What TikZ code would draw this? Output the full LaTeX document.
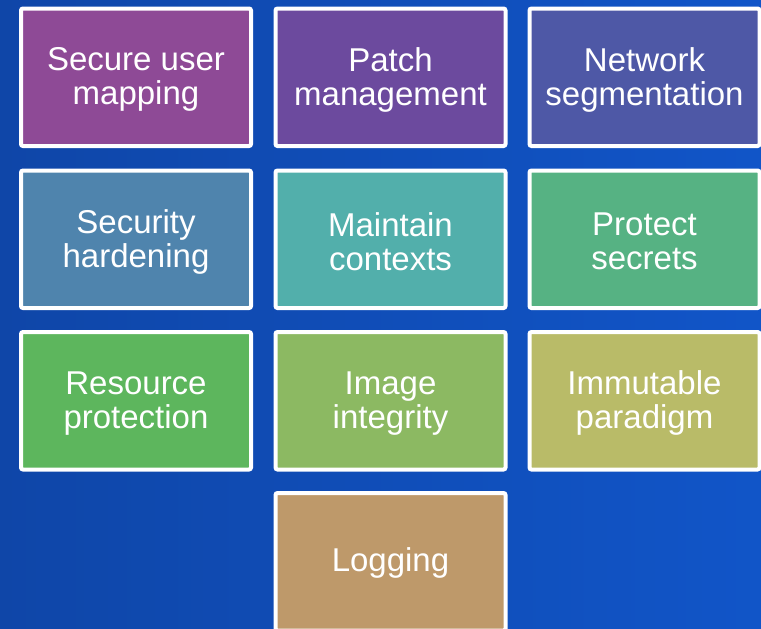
\documentclass[tikz,border=0pt]{standalone}
\usepackage{fontspec}
\setmainfont{Liberation Sans}
\begin{document}
\begin{tikzpicture}[x=1pt,y=-1pt,
  tile/.style={draw=white, line width=4pt, rounded corners=2pt, anchor=north west,
    minimum width=230pt, minimum height=137.5pt, inner sep=0pt},
  lbl/.style={align=center, inner sep=0pt, text=white, font=\fontsize{33}{34}\selectfont}]
\definecolor{bgL}{RGB}{15,70,168}
\definecolor{bgR}{RGB}{17,85,200}
\definecolor{cA}{RGB}{142,74,150}
\definecolor{cB}{RGB}{108,74,158}
\definecolor{cC}{RGB}{78,88,166}
\definecolor{cD}{RGB}{79,132,173}
\definecolor{cE}{RGB}{82,175,171}
\definecolor{cF}{RGB}{86,178,131}
\definecolor{cG}{RGB}{93,182,93}
\definecolor{cH}{RGB}{140,185,98}
\definecolor{cI}{RGB}{185,187,104}
\definecolor{cJ}{RGB}{190,153,106}
\useasboundingbox (0,0) rectangle (761,629);
\clip (0,0) rectangle (761,629);
\shade[left color=bgL, right color=bgR] (0,0) rectangle (761,629);
\node[tile, fill=cA] (n1) at (19,6.5) {};
\node[tile, fill=cB] (n2) at (273.5,6.5) {};
\node[tile, fill=cC] (n3) at (527.5,6.5) {};
\node[tile, fill=cD] (n4) at (19,168.5) {};
\node[tile, fill=cE] (n5) at (273.5,168.5) {};
\node[tile, fill=cF] (n6) at (527.5,168.5) {};
\node[tile, fill=cG] (n7) at (19,330) {};
\node[tile, fill=cH] (n8) at (273.5,330) {};
\node[tile, fill=cI] (n9) at (527.5,330) {};
\node[tile, fill=cJ] (n10) at (273.5,491) {};
\node[lbl] (t1) at ([yshift=-2.5pt]n1.center) {Secure user\\mapping};
\node[lbl] (t2) at ([yshift=-2.5pt]n2.center) {Patch\\management};
\node[lbl] (t3) at ([yshift=-2.5pt]n3.center) {Network\\segmentation};
\node[lbl] (t4) at ([yshift=-2.5pt]n4.center) {Security\\hardening};
\node[lbl] (t5) at ([yshift=-2.5pt]n5.center) {Maintain\\contexts};
\node[lbl] (t6) at ([yshift=-2.5pt]n6.center) {Protect\\secrets};
\node[lbl] (t7) at ([yshift=-2.5pt]n7.center) {Resource\\protection};
\node[lbl] (t8) at ([yshift=-2.5pt]n8.center) {Image\\integrity};
\node[lbl] (t9) at ([yshift=-2.5pt]n9.center) {Immutable\\paradigm};
\node[lbl] (t10) at ([yshift=-1pt]n10.center) {Logging};
\end{tikzpicture}
\end{document}
